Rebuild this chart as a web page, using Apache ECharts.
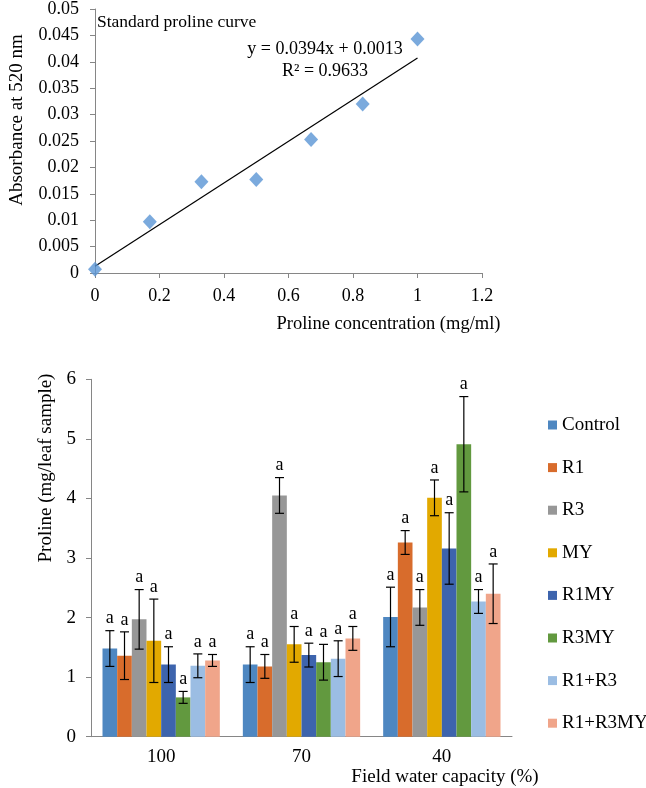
<!DOCTYPE html>
<html>
<head>
<meta charset="utf-8">
<script src="https://cdn.jsdelivr.net/npm/echarts@6/dist/echarts.min.js"></script>
<style>
html,body{margin:0;padding:0;background:#fff;}
#chart{width:646px;height:788px;}
</style>
</head>
<body>
<div id="chart"></div>
<script>
// ---- Top chart: standard proline curve ----
const concX = [0, 0.17, 0.33, 0.5, 0.67, 0.83, 1.0];
const absorbY = [0.0007, 0.0097, 0.0173, 0.0177, 0.0253, 0.032, 0.0443];
const trendLine = [[0, 0.0013], [1, 0.0407]];
const equationText = 'y = 0.0394x + 0.0013';
const r2Text = 'R² = 0.9633';

// ---- Bottom chart: proline by field water capacity ----
const groups = ['100', '70', '40'];
const treatments = ['Control', 'R1', 'R3', 'MY', 'R1MY', 'R3MY', 'R1+R3', 'R1+R3MY'];
const colors = ['#4e87c1', '#d86c2c', '#979797', '#e2a900', '#3d64ad', '#62993f', '#9bbde3', '#f0a58a'];
const valControl = [1.48, 1.21, 2.01];
const valR1 = [1.36, 1.18, 3.26];
const valR3 = [1.97, 4.05, 2.17];
const valMY = [1.61, 1.55, 4.01];
const valR1MY = [1.21, 1.37, 3.16];
const valR3MY = [0.66, 1.25, 4.91];
const valR1R3 = [1.19, 1.31, 2.27];
const valR1R3MY = [1.28, 1.65, 2.40];
const errControl = [0.30, 0.30, 0.50];
const errR1 = [0.40, 0.20, 0.20];
const errR3 = [0.50, 0.30, 0.30];
const errMY = [0.70, 0.30, 0.30];
const errR1MY = [0.30, 0.20, 0.60];
const errR3MY = [0.10, 0.30, 0.80];
const errR1R3 = [0.20, 0.30, 0.20];
const errR1R3MY = [0.10, 0.20, 0.50];
const sigLetter = 'a';

const values = [valControl, valR1, valR3, valMY, valR1MY, valR3MY, valR1R3, valR1R3MY];
const errors = [errControl, errR1, errR3, errMY, errR1MY, errR3MY, errR1R3, errR1R3MY];

const FONT = 'Liberation Serif';
const AXIS_GRAY = '#868686';
const CAT_GAP = 0.164;

const errData = [];
values.forEach((vals, s) => {
  vals.forEach((v, c) => {
    errData.push([c, s, v - errors[s][c], v + errors[s][c]]);
  });
});

const barSeries = treatments.map((name, s) => ({
  name: name,
  type: 'bar',
  xAxisIndex: 1,
  yAxisIndex: 1,
  data: values[s],
  itemStyle: { color: colors[s] },
  barGap: '0%',
  barCategoryGap: (CAT_GAP * 100) + '%',
  silent: true
}));

const chart = echarts.init(document.getElementById('chart'), null, { renderer: 'canvas' });

const option = {
  animation: false,
  textStyle: { fontFamily: FONT },
  grid: [
    { left: 86, top: 9, width: 396, height: 264 },
    { left: 91, top: 379.3, width: 421, height: 357.4 }
  ],
  xAxis: [
    {
      gridIndex: 0, type: 'value', min: 0, max: 1.2, interval: 0.2,
      name: 'Proline concentration (mg/ml)', nameLocation: 'middle', nameGap: 42,
      nameTextStyle: { fontFamily: FONT, fontSize: 18.5, color: '#000', padding: [0, 0, 0, 200] },
      axisLine: { show: true, lineStyle: { color: AXIS_GRAY } },
      axisTick: { show: true, length: 5, lineStyle: { color: AXIS_GRAY } },
      axisLabel: { fontFamily: FONT, fontSize: 18, color: '#000', margin: 14 },
      splitLine: { show: false }
    },
    {
      gridIndex: 1, type: 'category', data: groups,
      name: 'Field water capacity (%)', nameLocation: 'middle', nameGap: 28,
      nameTextStyle: { fontFamily: FONT, fontSize: 19, color: '#000', padding: [0, 0, 0, 287] },
      axisLine: { show: true, lineStyle: { color: AXIS_GRAY } },
      axisTick: { show: false },
      axisLabel: { fontFamily: FONT, fontSize: 19, color: '#000', margin: 11 },
      splitLine: { show: false }
    }
  ],
  yAxis: [
    {
      gridIndex: 0, type: 'value', min: 0, max: 0.05, interval: 0.005,
      name: 'Absorbance at 520 nm', nameLocation: 'middle', nameGap: 68,
      nameTextStyle: { fontFamily: FONT, fontSize: 19, color: '#000', padding: [0, 0, 0, 42] },
      axisLine: { show: true, lineStyle: { color: AXIS_GRAY } },
      axisTick: { show: true, length: 5, lineStyle: { color: AXIS_GRAY } },
      axisLabel: { fontFamily: FONT, fontSize: 18, color: '#000', margin: 16,
        formatter: v => String(+v.toFixed(3)) },
      splitLine: { show: false }
    },
    {
      gridIndex: 1, type: 'value', min: 0, max: 6, interval: 1,
      name: 'Proline (mg/leaf sample)', nameLocation: 'middle', nameGap: 35,
      nameTextStyle: { fontFamily: FONT, fontSize: 19, color: '#000', padding: [0, 0, 0, 180] },
      axisLine: { show: true, lineStyle: { color: AXIS_GRAY } },
      axisTick: { show: true, length: 5, lineStyle: { color: AXIS_GRAY } },
      axisLabel: { fontFamily: FONT, fontSize: 19, color: '#000', margin: 15 },
      splitLine: { show: false }
    }
  ],
  legend: {
    data: treatments,
    orient: 'vertical',
    left: 543,
    top: 410,
    itemWidth: 9,
    itemHeight: 9,
    itemGap: 22.6,
    icon: 'rect',
    textStyle: { fontFamily: FONT, fontSize: 19, color: '#000', lineHeight: 20 },
    selectedMode: false
  },
  graphic: [
    { type: 'text', left: 97, top: 13, style: { text: 'Standard proline curve', font: '17.5px "Liberation Serif"', fill: '#000' } },
    { type: 'text', x: 325, y: 49, style: { text: equationText, font: '18px "Liberation Serif"', fill: '#000', textAlign: 'center', textVerticalAlign: 'middle' } },
    { type: 'text', x: 325, y: 71, style: { text: r2Text, font: '18px "Liberation Serif"', fill: '#000', textAlign: 'center', textVerticalAlign: 'middle' } }
  ],
  series: [
    {
      type: 'line', xAxisIndex: 0, yAxisIndex: 0,
      data: trendLine, showSymbol: false, symbol: 'none',
      lineStyle: { color: '#000', width: 1.2 }, silent: true, z: 2
    },
    {
      type: 'scatter', xAxisIndex: 0, yAxisIndex: 0,
      data: concX.map((x, i) => [x, absorbY[i]]),
      symbol: 'diamond', symbolSize: [14, 15],
      itemStyle: { color: '#5a95d5' }, silent: true, z: 3
    },
    ...barSeries,
    {
      type: 'custom', xAxisIndex: 1, yAxisIndex: 1,
      data: errData, silent: true, z: 5,
      renderItem: function (params, api) {
        const c = api.value(0), s = api.value(1), lo = api.value(2), hi = api.value(3);
        const band = api.size([1, 0])[0];
        const total = band * (1 - CAT_GAP);
        const bw = total / treatments.length;
        const cx = api.coord([c, 0])[0] - total / 2 + (s + 0.5) * bw;
        const yLo = api.coord([c, lo])[1];
        const yHi = api.coord([c, hi])[1];
        const half = 4.5;
        const ls = { stroke: '#000', lineWidth: 1.2 };
        return {
          type: 'group',
          children: [
            { type: 'line', shape: { x1: cx, y1: yLo, x2: cx, y2: yHi }, style: ls },
            { type: 'line', shape: { x1: cx - half, y1: yHi, x2: cx + half, y2: yHi }, style: ls },
            { type: 'line', shape: { x1: cx - half, y1: yLo, x2: cx + half, y2: yLo }, style: ls },
            { type: 'text', x: cx, y: yHi - 3, style: { text: sigLetter, font: '18px "Liberation Serif"', fill: '#000', textAlign: 'center', textVerticalAlign: 'bottom' } }
          ]
        };
      }
    }
  ]
};
chart.setOption(option);
</script>
</body>
</html>
